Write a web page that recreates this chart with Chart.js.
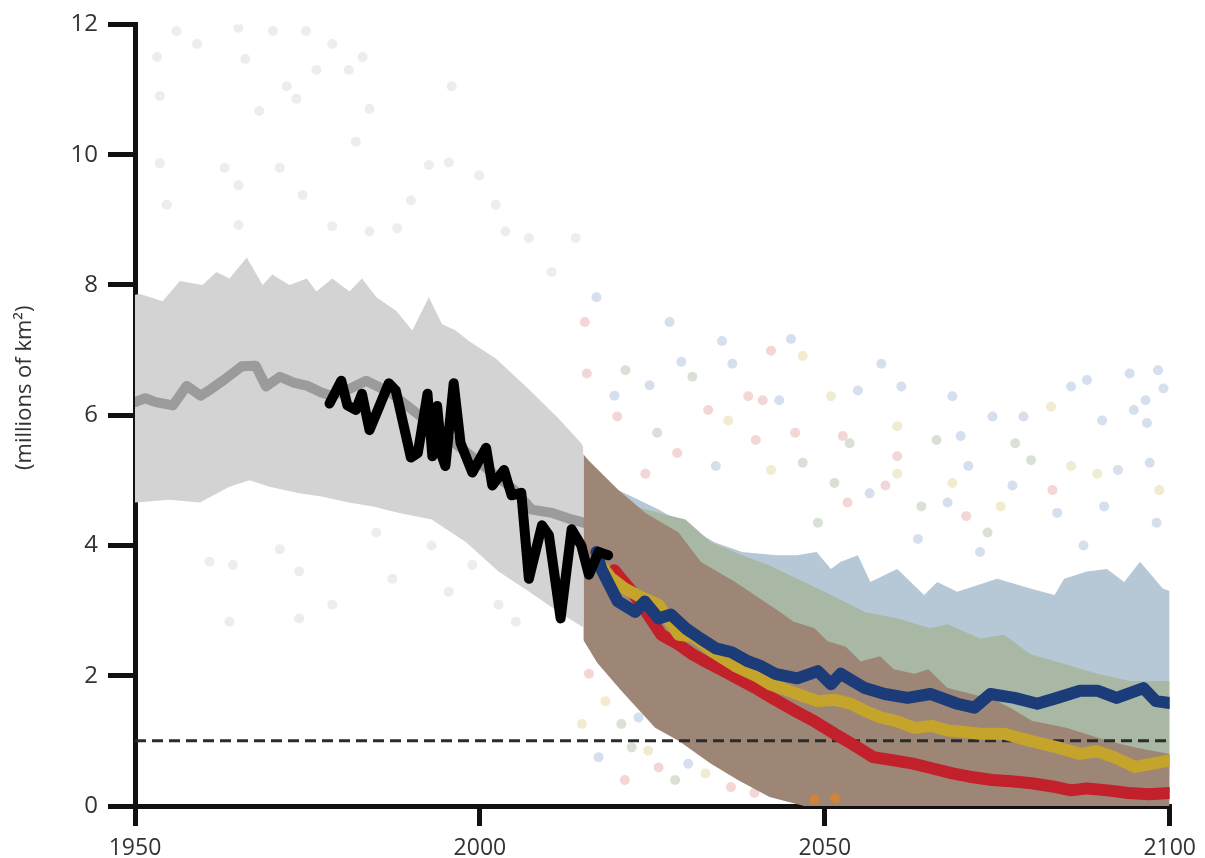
<!DOCTYPE html>
<html>
<head>
<meta charset="utf-8">
<script src="https://cdn.jsdelivr.net/npm/chart.js@4.4.0/dist/chart.umd.min.js"></script>
<style>
  body { margin: 0; background: #fff; }
  #wrap { width: 1205px; height: 858px; }
</style>
</head>
<body>
<div id="wrap"><canvas id="iceChart" width="1205" height="858"></canvas></div>
<script>
// axis ticks
var xTicks = [1950, 2000, 2050, 2100];
var yTicks = [0, 2, 4, 6, 8, 10, 12];

// historical model range (grey band) and model mean
var bandHistTopYears = [1950, 1950.7, 1954, 1956.5, 1959.8, 1961.8, 1963.7, 1966.2, 1968.5, 1969.9, 1972.4, 1974.9, 1976.3, 1978.6, 1981.1, 1982.9, 1985, 1987.9, 1990.2, 1992.6, 1994.5, 1996.5, 1998.4, 2002.3, 2007.1, 2011.4, 2014.7, 2015];
var bandHistTop = [7.85, 7.86, 7.75, 8.06, 8.0, 8.2, 8.1, 8.42, 8.0, 8.16, 8.0, 8.1, 7.9, 8.1, 7.9, 8.1, 7.81, 7.6, 7.3, 7.81, 7.4, 7.3, 7.14, 6.87, 6.4, 5.95, 5.57, 5.5];
var bandHistLowYears = [1950, 1955, 1959.4, 1963.7, 1966.6, 1969.5, 1973.8, 1977, 1981, 1984.5, 1988.3, 1993, 1998, 2002.7, 2007, 2011.4, 2014.7, 2015];
var bandHistLow = [4.66, 4.7, 4.66, 4.9, 5.0, 4.9, 4.8, 4.75, 4.66, 4.6, 4.5, 4.4, 4.05, 3.6, 3.3, 2.98, 2.76, 2.75];

var meanYears = [1950, 1951.5, 1953, 1955.5, 1957.5, 1959.5, 1961, 1963, 1965.5, 1967.5, 1969, 1971, 1973, 1975, 1977, 1978.5, 1981, 1983.5, 1987, 1990, 1993, 1996, 1999, 2002, 2005, 2007.5, 2010.5, 2013.3, 2015];
var meanValues = [6.2, 6.26, 6.2, 6.15, 6.45, 6.3, 6.4, 6.55, 6.75, 6.76, 6.44, 6.59, 6.5, 6.45, 6.35, 6.3, 6.4, 6.53, 6.35, 6.1, 5.85, 5.6, 5.35, 5.1, 4.85, 4.55, 4.5, 4.4, 4.35];

// observations
var obsYears = [1978.2, 1979.9, 1980.8, 1982, 1982.9, 1984, 1985.2, 1986.8, 1987.8, 1990, 1991, 1992.4, 1993.1, 1993.8, 1994.5, 1995, 1996.2, 1997.2, 1998.9, 2000.9, 2001.8, 2003.5, 2004.6, 2006, 2007.1, 2009, 2010, 2011.7, 2013.3, 2014.7, 2015.8, 2017.2, 2018.6];
var obsValues = [6.18, 6.53, 6.15, 6.08, 6.33, 5.77, 6.08, 6.49, 6.38, 5.35, 5.42, 6.33, 5.37, 6.14, 5.37, 5.22, 6.49, 5.57, 5.12, 5.5, 4.92, 5.16, 4.77, 4.81, 3.49, 4.31, 4.16, 2.88, 4.25, 4.0, 3.55, 3.9, 3.85];

// projection ranges
var bandBlueTopYears = [2018, 2022, 2026, 2030, 2034, 2038, 2043, 2046, 2048.8, 2050.9, 2052.3, 2054.8, 2056.6, 2060.5, 2064.4, 2066.3, 2069.2, 2075, 2079.8, 2083.3, 2084.7, 2088, 2090.9, 2093.4, 2095.7, 2099, 2100];
var bandBlueTop = [4.95, 4.75, 4.55, 4.3, 4.05, 3.9, 3.85, 3.85, 3.9, 3.64, 3.75, 3.85, 3.44, 3.64, 3.24, 3.44, 3.29, 3.49, 3.34, 3.24, 3.49, 3.6, 3.64, 3.44, 3.75, 3.34, 3.3];
var bandBlueLowYears = [2018, 2020.5, 2025.4, 2028.8, 2033.5, 2037.4, 2042, 2047, 2100];
var bandBlueLow = [2.3, 1.9, 1.3, 1.05, 0.7, 0.45, 0.2, 0.05, 0.5];

var bandGreenTopYears = [2018, 2022.5, 2026, 2029.8, 2033.5, 2038, 2041.8, 2046, 2050.9, 2055.8, 2060.5, 2065.3, 2067.8, 2072.5, 2076, 2079.8, 2084.7, 2089.5, 2094.2, 2100];
var bandGreenTop = [4.9, 4.6, 4.5, 4.4, 4.05, 3.85, 3.7, 3.49, 3.24, 2.98, 2.88, 2.73, 2.79, 2.57, 2.63, 2.33, 2.18, 2.03, 1.92, 1.92];
var bandGreenLowYears = [2018, 2020.5, 2025.4, 2028.8, 2033.5, 2037.4, 2042, 2047, 2100];
var bandGreenLow = [2.3, 1.85, 1.25, 1.02, 0.68, 0.42, 0.16, 0.02, 0.2];

var bandBrownTopYears = [2015, 2015.8, 2020, 2024, 2028.8, 2032, 2037, 2042.8, 2045.5, 2048.5, 2050.4, 2053, 2055.2, 2058, 2060, 2063, 2065, 2067.8, 2072, 2075, 2077, 2080, 2085, 2091, 2095, 2100];
var bandBrownTop = [5.4, 5.3, 4.86, 4.5, 4.2, 3.75, 3.44, 3.03, 2.83, 2.73, 2.53, 2.45, 2.22, 2.3, 2.1, 2.03, 2.1, 1.81, 1.7, 1.61, 1.5, 1.31, 1.2, 1.0, 0.9, 0.8];
var bandBrownLowYears = [2015, 2017, 2020.5, 2025.4, 2028.8, 2033.5, 2037.4, 2042, 2047, 2100];
var bandBrownLow = [2.55, 2.2, 1.77, 1.2, 1.0, 0.65, 0.4, 0.14, 0, 0];

// projected means
var blueYears = [2016.9, 2017.6, 2020, 2022.5, 2023.9, 2025.9, 2027.7, 2029.8, 2032, 2034.2, 2036.5, 2038.9, 2040.5, 2042.8, 2046, 2049, 2050.9, 2052.3, 2055.8, 2058.7, 2062, 2065.3, 2069.2, 2071.7, 2074, 2077.5, 2080.8, 2083.7, 2087, 2089.5, 2092.3, 2096.2, 2098, 2100];
var blueValues = [3.9, 3.64, 3.14, 2.98, 3.14, 2.88, 2.94, 2.73, 2.57, 2.42, 2.36, 2.22, 2.16, 2.03, 1.96, 2.07, 1.87, 2.03, 1.81, 1.72, 1.66, 1.72, 1.57, 1.51, 1.72, 1.66, 1.57, 1.66, 1.77, 1.77, 1.66, 1.81, 1.61, 1.58];

var yellowYears = [2017.5, 2019, 2021, 2023.5, 2025.9, 2028.8, 2031, 2034, 2037, 2040, 2042, 2044, 2046, 2049, 2051.5, 2053.8, 2056, 2058.1, 2060.5, 2063, 2065.5, 2067.8, 2070, 2072.5, 2076, 2079.8, 2083.7, 2087, 2089.5, 2091.9, 2095, 2097.5, 2100];
var yellowValues = [3.7, 3.5, 3.34, 3.2, 3.09, 2.63, 2.6, 2.35, 2.15, 2.0, 1.87, 1.8, 1.72, 1.61, 1.63, 1.57, 1.45, 1.36, 1.3, 1.2, 1.23, 1.16, 1.14, 1.11, 1.11, 1.0, 0.9, 0.8, 0.84, 0.75, 0.6, 0.65, 0.7];

var redYears = [2019.5, 2020.5, 2022, 2024, 2026.3, 2028.5, 2030.8, 2033, 2035.4, 2037.5, 2040, 2042.5, 2045.7, 2048.5, 2051.4, 2054, 2057, 2060, 2062.8, 2065.5, 2068.5, 2071, 2074.3, 2077, 2080, 2083, 2085.7, 2088, 2091, 2094, 2097, 2100];
var redValues = [3.62, 3.49, 3.3, 3.0, 2.63, 2.5, 2.33, 2.2, 2.07, 1.95, 1.81, 1.65, 1.46, 1.3, 1.11, 0.95, 0.75, 0.7, 0.65, 0.58, 0.5, 0.45, 0.4, 0.38, 0.35, 0.3, 0.24, 0.27, 0.24, 0.2, 0.18, 0.2];

// threshold
var thresholdYears = [1950, 2100];
var thresholdValues = [1, 1];

// individual model runs (faint dots)
var greyDots = [[1956, 11.9], [1959, 11.7], [1965, 11.95], [1970, 11.9], [1974.8, 11.9], [1978.6, 11.7], [1983, 11.5], [1966, 11.47], [1972, 11.05], [1973.4, 10.86], [1976.3, 11.3], [1981, 11.3], [1968, 10.67], [1953.6, 10.9], [1953.2, 11.5], [1984, 10.7], [1982, 10.2], [1971, 9.8], [1963, 9.8], [1953.6, 9.87], [1954.6, 9.23], [1965, 9.53], [1974.3, 9.38], [1978.6, 8.9], [1984, 8.82], [1965, 8.92], [2002.3, 9.23], [2007.1, 8.72], [2003.7, 8.82], [1999.9, 9.68], [1995.5, 9.88], [1992.6, 9.84], [1988, 8.87], [1990, 9.3], [2013.9, 8.72], [2010.4, 8.2], [1995.9, 11.05], [1960.8, 3.75], [1964.2, 3.7], [1971, 3.94], [1973.8, 3.6], [1978.6, 3.09], [1985, 4.2], [1987.3, 3.49], [1993, 4.0], [1995.5, 3.29], [1998.9, 3.7], [2002.7, 3.09], [2005.2, 2.83], [1973.8, 2.88], [1963.7, 2.83]];
var blueDots = [[2016.9, 7.81], [2027.5, 7.43], [2035.1, 7.14], [2045.1, 7.17], [2058.2, 6.79], [2036.6, 6.79], [2029.2, 6.82], [2024.6, 6.46], [2043.4, 6.23], [2054.8, 6.38], [2061.1, 6.44], [2068.5, 6.29], [2074.3, 5.98], [2078.8, 5.98], [2085.7, 6.44], [2088.0, 6.54], [2094.2, 6.64], [2098.3, 6.69], [2096.5, 6.23], [2099.1, 6.41], [2090.2, 5.92], [2069.7, 5.68], [2070.8, 5.22], [2092.5, 5.16], [2097.1, 5.27], [2094.8, 6.08], [2077.2, 4.92], [2034.2, 5.22], [2096.7, 5.88], [2098.1, 4.35], [2067.8, 4.66], [2083.7, 4.5], [2017.2, 0.75], [2023.0, 1.36], [2030.2, 0.65], [2019.5, 6.3], [2063.5, 4.1], [2087.5, 4.0], [2056.5, 4.8], [2072.5, 3.9], [2090.5, 4.6]];
var redDots = [[2015.2, 7.43], [2042.2, 6.99], [2015.5, 6.64], [2038.9, 6.29], [2041.0, 6.23], [2052.6, 5.68], [2045.7, 5.73], [2040.0, 5.62], [2033.1, 6.08], [2019.9, 5.98], [2060.5, 5.37], [2058.8, 4.92], [2028.6, 5.42], [2053.3, 4.66], [2015.8, 2.03], [2021.0, 0.4], [2025.9, 0.59], [2036.4, 0.29], [2039.8, 0.2], [2070.5, 4.45], [2083.0, 4.85], [2024.0, 5.1]];
var yellowDots = [[2046.8, 6.91], [2050.9, 6.29], [2082.8, 6.13], [2060.5, 5.83], [2036.0, 5.92], [2085.7, 5.22], [2068.5, 4.96], [2042.2, 5.16], [2089.5, 5.1], [2060.5, 5.1], [2018.2, 1.61], [2024.4, 0.85], [2032.7, 0.5], [2014.8, 1.26], [2098.5, 4.85], [2075.5, 4.6]];
var greenDots = [[2021.1, 6.69], [2030.8, 6.59], [2077.6, 5.57], [2066.2, 5.62], [2053.6, 5.57], [2025.7, 5.73], [2046.8, 5.27], [2079.9, 5.31], [2051.4, 4.96], [2073.6, 4.2], [2049.0, 4.35], [2020.5, 1.26], [2022.0, 0.9], [2028.3, 0.4], [2064.0, 4.6]];
var orangeDots = [[2048.5, 0.1], [2051.5, 0.12]];

function pts(xs, ys) {
    return xs.map(function(x, i) { return { x: x, y: ys[i] }; });
}
function pairs(list) {
    return list.map(function(p) { return { x: p[0], y: p[1] }; });
}
function band(label) {
    return { label: label, borderWidth: 0, pointRadius: 0, fill: false };
}
function dots(list, colour, order) {
    return {
        data: pairs(list), showLine: false, pointRadius: 5, pointBorderWidth: 0,
        pointBackgroundColor: colour, order: order
    };
}
function meanLine(xs, ys, colour, width, order) {
    return {
        data: pts(xs, ys), borderColor: colour, borderWidth: width, pointRadius: 0,
        tension: 0, borderJoinStyle: 'round', borderCapStyle: 'round', fill: false, order: order
    };
}

var datasets = [];
// each band = a low edge followed by a top edge filled down to it
datasets.push(Object.assign(band('histLow'), { data: pts(bandHistLowYears, bandHistLow), order: 90 }));
datasets.push(Object.assign(band('histTop'), { data: pts(bandHistTopYears, bandHistTop), fill: '-1', backgroundColor: '#d3d3d3', order: 90 }));
datasets.push(Object.assign(band('blueLow'), { data: pts(bandBlueLowYears, bandBlueLow), order: 70 }));
datasets.push(Object.assign(band('blueTop'), { data: pts(bandBlueTopYears, bandBlueTop), fill: '-1', backgroundColor: '#b6c7d6', order: 70 }));
datasets.push(Object.assign(band('greenLow'), { data: pts(bandGreenLowYears, bandGreenLow), order: 60 }));
datasets.push(Object.assign(band('greenTop'), { data: pts(bandGreenTopYears, bandGreenTop), fill: '-1', backgroundColor: '#a9b7a5', order: 60 }));
datasets.push(Object.assign(band('brownLow'), { data: pts(bandBrownLowYears, bandBrownLow), order: 50 }));
datasets.push(Object.assign(band('brownTop'), { data: pts(bandBrownTopYears, bandBrownTop), fill: '-1', backgroundColor: '#9d8676', order: 50 }));

datasets.push(dots(greyDots, 'rgba(165,165,165,0.2)', 85));
datasets.push(dots(blueDots, 'rgba(120,150,195,0.3)', 55));
datasets.push(dots(redDots, 'rgba(220,120,120,0.3)', 55));
datasets.push(dots(yellowDots, 'rgba(215,200,120,0.35)', 55));
datasets.push(dots(greenDots, 'rgba(130,155,120,0.3)', 55));
datasets.push(dots(orangeDots, 'rgba(225,130,40,0.8)', 45));

datasets.push({
    data: pts(thresholdYears, thresholdValues), borderColor: '#2b2b2b', borderWidth: 3,
    borderDash: [11, 6], pointRadius: 0, fill: false, order: 40
});
datasets.push(meanLine(meanYears, meanValues, '#9b9b9b', 10, 80));
datasets.push(meanLine(redYears, redValues, '#c2202a', 12, 30));
datasets.push(meanLine(yellowYears, yellowValues, '#c5a42c', 12, 20));
datasets.push(meanLine(blueYears, blueValues, '#1b3c78', 12, 10));
datasets.push(meanLine(obsYears, obsValues, '#000000', 10, 5));

var ctx = document.getElementById('iceChart').getContext('2d');
var iceChart = new Chart(ctx, {
    type: 'line',
    data: { datasets: datasets },
    options: {
        responsive: false,
        animation: false,
        layout: { padding: { top: 18, right: 32, left: 0, bottom: 0 } },
        plugins: {
            legend: { display: false },
            tooltip: { enabled: false },
            filler: { propagate: false }
        },
        scales: {
            x: {
                type: 'linear',
                min: xTicks[0],
                max: xTicks[xTicks.length - 1],
                afterBuildTicks: function(scale) {
                    scale.ticks = xTicks.map(function(v) { return { value: v }; });
                },
                afterFit: function(scale) { scale.height = 52; },
                border: { display: true, color: '#111', width: 5 },
                grid: { drawOnChartArea: false, drawTicks: true, tickLength: 20, color: '#111', lineWidth: 5 },
                ticks: {
                    color: '#333', font: { family: "'Open Sans', sans-serif", size: 23 },
                    padding: 9, maxRotation: 0, autoSkip: false,
                    callback: function(v) { return String(v); }
                }
            },
            y: {
                min: yTicks[0],
                max: yTicks[yTicks.length - 1],
                afterBuildTicks: function(scale) {
                    scale.ticks = yTicks.map(function(v) { return { value: v }; });
                },
                afterFit: function(scale) { scale.width = 135; },
                border: { display: true, color: '#111', width: 5 },
                grid: { drawOnChartArea: false, drawTicks: true, tickLength: 27, color: '#111', lineWidth: 5 },
                ticks: {
                    color: '#333', font: { family: "'Open Sans', sans-serif", size: 24 }, padding: 10,
                    callback: function(v) { return String(v); }
                },
                title: {
                    display: true,
                    // leading spaces nudge the rotated title up a little
                    text: '\u2002\u2002\u2002\u2002\u2002(millions of km\u00b2)',
                    color: '#333',
                    font: { family: "'Open Sans', sans-serif", size: 22 },
                    padding: { top: 12, bottom: 0 }
                }
            }
        }
    }
});
</script>
</body>
</html>
